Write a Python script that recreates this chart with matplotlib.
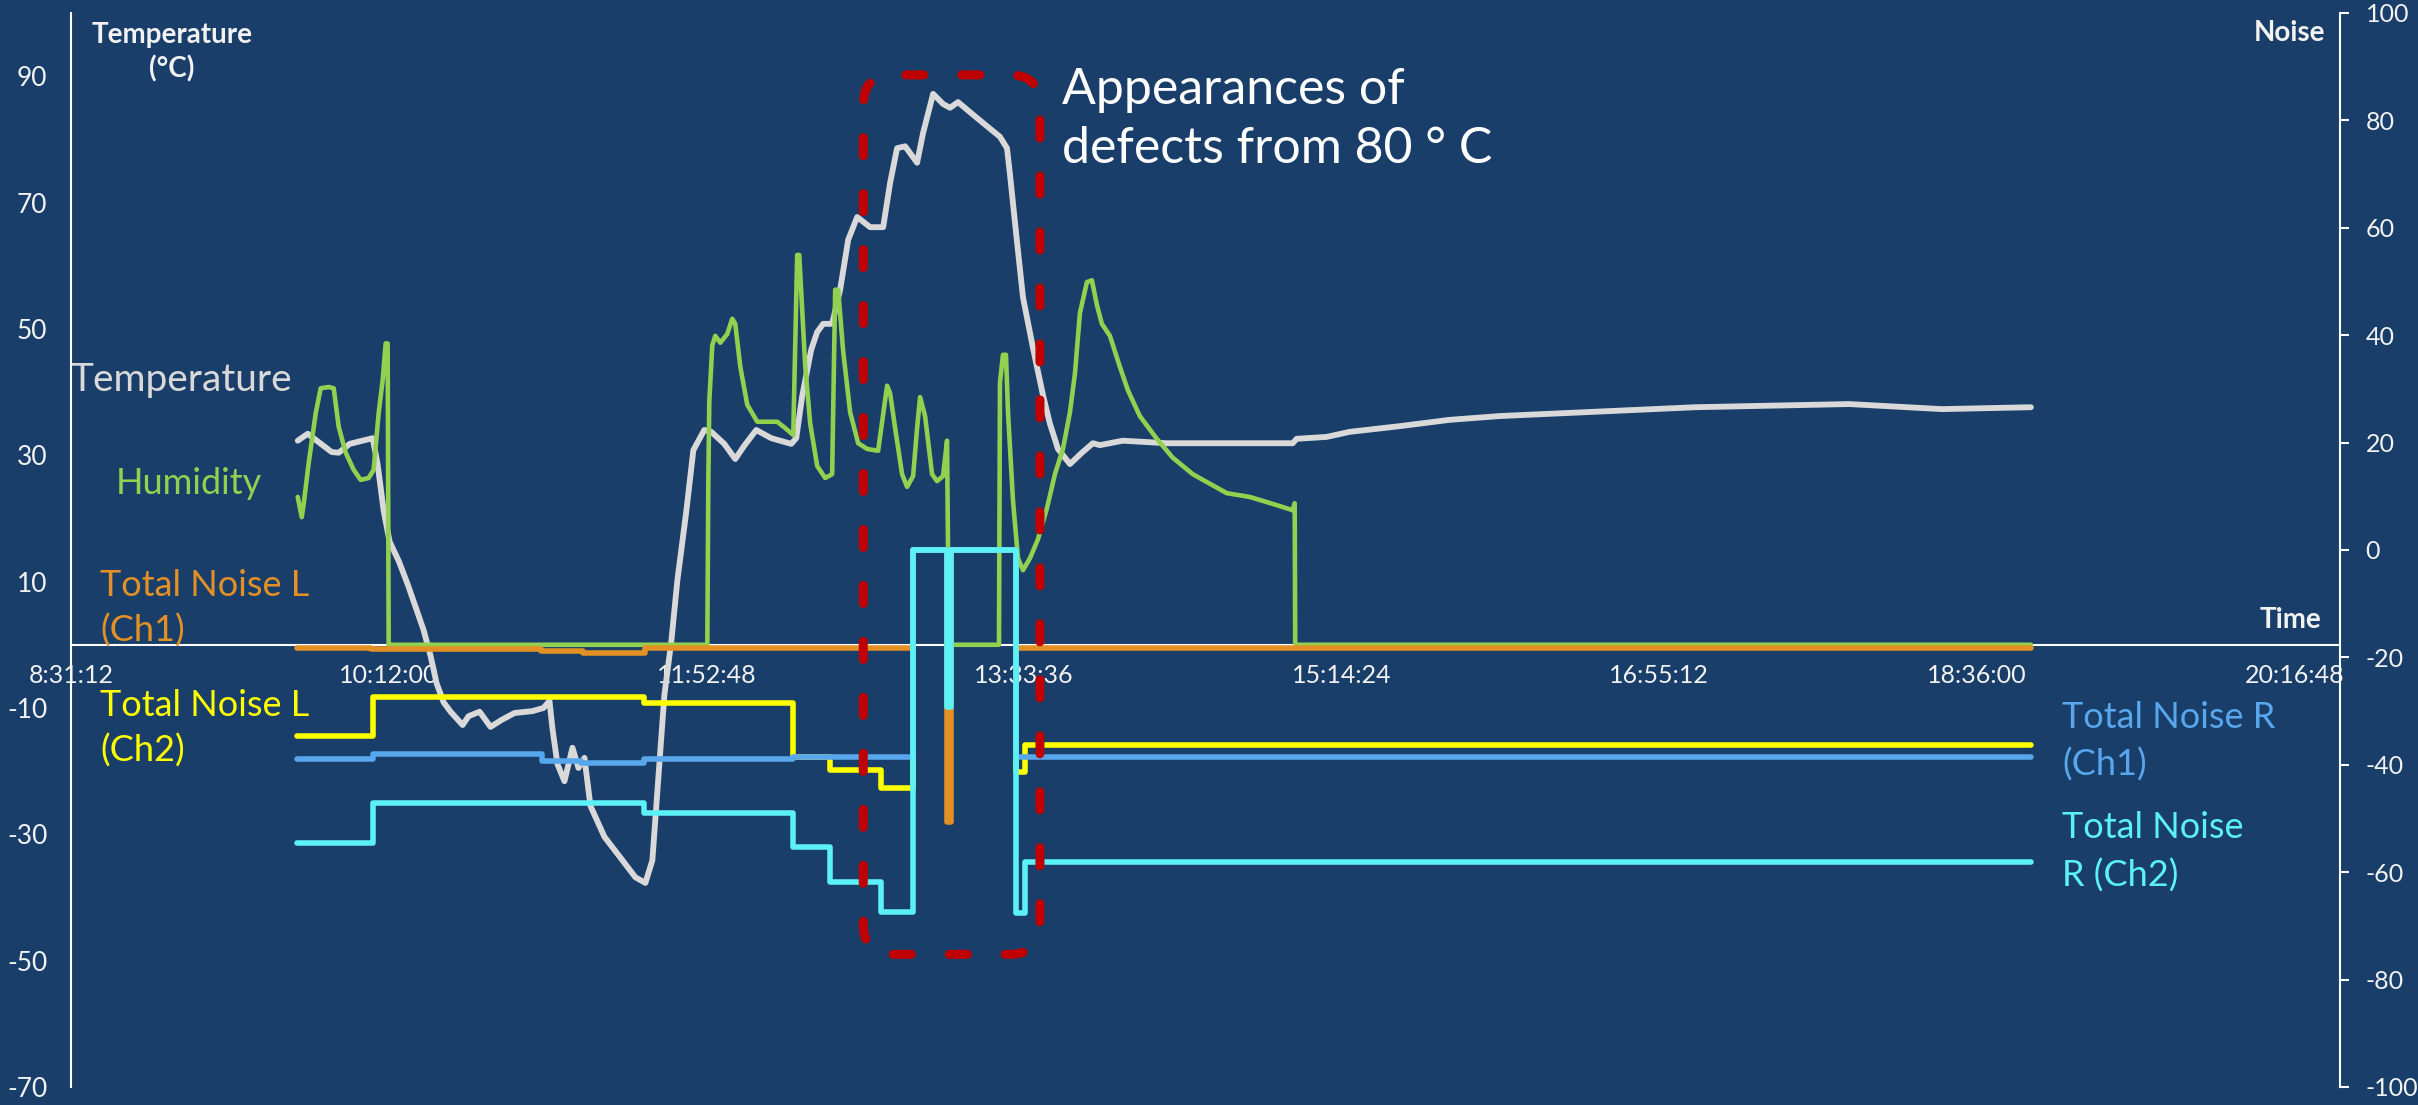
import matplotlib
matplotlib.use("Agg")
import matplotlib.pyplot as plt
from matplotlib.patches import FancyBboxPatch
from matplotlib.ticker import FixedLocator, FuncFormatter

plt.rcParams['font.family'] = ['Lato', 'DejaVu Sans']
plt.rcParams['axes.unicode_minus'] = False

# ---------------- data ----------------
temp_time = ["9:43:09", "9:46:19", "9:53:56", "9:56:09", "9:59:38", "10:06:56", "10:08:31", "10:10:25",
             "10:12:19", "10:15:10", "10:18:01", "10:20:53", "10:23:06", "10:25:19", "10:27:13", "10:29:26",
             "10:31:39", "10:35:28", "10:37:22", "10:40:51", "10:44:20", "10:47:49", "10:51:56", "10:57:39",
             "11:01:08", "11:03:02", "11:03:59", "11:05:34", "11:07:47", "11:10:20", "11:12:14", "11:14:08",
             "11:16:02", "11:20:28", "11:26:10", "11:30:17", "11:33:28", "11:35:41", "11:37:16", "11:39:29",
             "11:41:42", "11:43:37", "11:46:28", "11:48:41", "11:52:10", "11:54:23", "11:58:30", "12:01:59",
             "12:04:50", "12:08:39", "12:13:24", "12:19:44", "12:21:20", "12:23:14", "12:26:05", "12:27:59",
             "12:29:53", "12:32:44", "12:35:16", "12:37:49", "12:40:40", "12:44:47", "12:48:55", "12:51:07",
             "12:53:20", "12:55:53", "12:59:41", "13:01:35", "13:04:46", "13:07:56", "13:10:08", "13:12:41",
             "13:16:29", "13:20:36", "13:25:59", "13:28:13", "13:29:10", "13:31:23", "13:33:17", "13:36:27",
             "13:39:38", "13:41:50", "13:44:23", "13:48:11", "13:51:59", "13:55:28", "13:57:41", "14:04:59",
             "14:18:56", "14:39:51", "14:58:52", "15:00:08", "15:09:38", "15:16:56", "15:32:47", "15:48:38",
             "16:04:29", "17:06:38", "17:55:25", "18:24:54", "18:53:07"]
temp_vals = [32.3, 33.4, 30.5, 30.4, 31.8, 32.7, 28.5, 21.2,
             16.3, 13.3, 9.6, 5.5, 2.3, -1.8, -6.1, -9.1,
             -10.6, -12.7, -11.3, -10.6, -13.0, -11.9, -10.8, -10.5,
             -10.0, -8.9, -13.3, -18.9, -21.6, -16.3, -19.5, -17.9,
             -25.5, -30.4, -34.1, -36.8, -37.7, -34.1, -23.2, -8.0,
             0.6, 10.2, 21.2, 30.8, 34.0, 33.7, 31.8, 29.4,
             31.5, 34.0, 32.7, 31.8, 32.7, 39.4, 46.7, 49.5,
             50.8, 50.8, 56.2, 64.1, 67.7, 66.1, 66.1, 73.1,
             78.6, 78.9, 76.3, 81.0, 87.2, 85.6, 85.0, 85.9,
             84.3, 82.6, 80.4, 78.6, 74.4, 63.8, 55.0, 47.0,
             39.5, 35.0, 31.0, 28.6, 30.4, 31.9, 31.6, 32.3,
             31.9, 31.9, 31.9, 32.6, 32.9, 33.7, 34.6, 35.6,
             36.2, 37.6, 38.1, 37.3, 37.6]

hum_time = ["9:43:09", "9:44:25", "9:45:04", "9:46:38", "9:48:52", "9:50:26", "9:52:59", "9:54:34",
            "9:56:09", "9:58:22", "10:00:54", "10:03:07", "10:05:40", "10:07:14", "10:08:50", "10:10:06",
            "10:11:03", "10:11:41", "10:12:00", "11:53:07", "11:53:26", "11:53:45", "11:54:42", "11:55:39",
            "11:57:14", "11:59:27", "12:01:02", "12:01:59", "12:03:35", "12:05:47", "12:08:58", "12:12:08",
            "12:15:18", "12:17:50", "12:20:23", "12:21:38", "12:22:17", "12:24:11", "12:25:46", "12:27:59",
            "12:30:31", "12:32:44", "12:33:41", "12:34:38", "12:36:13", "12:38:26", "12:40:59", "12:43:50",
            "12:47:19", "12:50:10", "12:51:07", "12:52:43", "12:54:55", "12:56:31", "12:58:25", "12:59:41",
            "13:00:38", "13:02:13", "13:04:26", "13:06:01", "13:07:55", "13:09:11", "13:09:30", "13:09:40",
            "13:25:40", "13:25:59", "13:26:56", "13:27:53", "13:28:32", "13:30:07", "13:31:42", "13:33:17",
            "13:35:30", "13:38:02", "13:40:53", "13:43:25", "13:45:58", "13:48:11", "13:49:46", "13:51:21",
            "13:53:34", "13:55:09", "13:56:44", "13:58:19", "14:00:52", "14:04:02", "14:06:34", "14:10:22",
            "14:15:45", "14:20:50", "14:27:10", "14:37:56", "14:45:14", "14:52:32", "14:58:52", "14:59:30",
            "14:59:40", "18:53:07"]
hum_vals = [23.4, 20.2, 22.4, 28.8, 36.7, 40.6, 40.8, 40.6,
            34.5, 30.4, 27.7, 26.1, 26.4, 27.7, 36.7, 41.9,
            47.7, 47.7, 0, 0, 25.9, 38.6, 47.4, 48.9,
            47.8, 49.2, 51.6, 50.8, 44.0, 38.0, 35.3, 35.3,
            35.3, 34.3, 33.2, 61.7, 61.7, 44.1, 35.0, 28.3,
            26.4, 27.0, 56.2, 56.2, 46.5, 36.8, 31.9, 31.0,
            30.7, 41.0, 39.8, 34.3, 27.0, 25.0, 26.7, 34.3,
            39.2, 36.2, 27.0, 25.9, 26.7, 32.3, 15.0, 0,
            0, 41.5, 45.9, 45.9, 36.8, 22.8, 13.7, 11.8,
            13.7, 16.7, 21.6, 27.0, 31.0, 36.8, 42.9, 52.5,
            57.4, 57.7, 53.8, 50.8, 48.9, 44.0, 40.3, 36.2,
            32.6, 29.6, 27.0, 24.0, 23.4, 22.3, 21.3, 22.4,
            0, 0]

# Noise series (secondary axis), values held until next change time
noise_l1_time = ["9:43:00", "10:06:17", "11:00:11", "11:13:49", "11:33:28", "12:58:25", "13:09:11",
                 "13:10:27", "13:31:04", "18:53:07"]
noise_l1_vals = [-18.2, -18.5, -18.9, -19.2, -18.2, 0, -50.7, 0, -18.2, -18.2]

noise_l2_time = ["9:43:00", "10:06:56", "11:33:09", "12:20:23", "12:32:07", "12:48:17", "12:58:25",
                 "13:31:04", "13:33:55", "18:53:07"]
noise_l2_vals = [-34.6, -27.4, -28.5, -38.6, -41.0, -44.4, 0, -41.3, -36.3, -36.3]

noise_r1_time = ["9:43:00", "10:06:56", "11:00:30", "11:13:10", "11:33:09", "12:20:23", "12:58:25",
                 "13:31:04", "18:53:07"]
noise_r1_vals = [-38.9, -38.0, -39.3, -39.6, -38.9, -38.5, 0, -38.5, -38.5]

noise_r2_time = ["9:43:00", "10:06:56", "11:33:09", "12:20:23", "12:32:07", "12:48:17", "12:58:25",
                 "13:09:11", "13:10:27", "13:31:04", "13:33:55", "18:53:07"]
noise_r2_vals = [-54.6, -47.2, -49.0, -55.4, -61.9, -67.5, 0, -29.2, 0, -67.6, -58.1, -58.1]

x_ticks = ["8:31:12", "10:12:00", "11:52:48", "13:33:36", "15:14:24", "16:55:12", "18:36:00", "20:16:48"]
x_max = "20:31:12"
temp_ticks = [90, 70, 50, 30, 10, -10, -30, -50, -70]
noise_ticks = [100, 80, 60, 40, 20, 0, -20, -40, -60, -80, -100]

# defect window annotation (time range, temperature range)
box_time = ["12:42:36", "13:38:40"]
box_temp = [-49.0, 90.2]

# ---------------- styling ----------------
BG = '#1a3e6a'
C_TEMP = '#d9d9d9'
C_HUM = '#92d050'
C_L1 = '#e39024'
C_L2 = '#ffff00'
C_R1 = '#58a6ec'
C_R2 = '#5cf0f7'
C_BOX = '#c00000'
TXT = '#f2f2f2'


def t2d(s):
    p = [int(v) for v in s.split(":")]
    while len(p) < 3:
        p.append(0)
    return (p[0] * 3600 + p[1] * 60 + p[2]) / 86400.0


def fmt_time(v, pos=None):
    s = int(round(v * 86400))
    return f"{s // 3600}:{(s % 3600) // 60:02d}:{s % 60:02d}"


W, H = 2418, 1105
fig = plt.figure(figsize=(W / 100, H / 100), dpi=100, facecolor=BG)
L, R, T, B = 71, 2340, 13, 1087
ax = fig.add_axes([L / W, 1 - B / H, (R - L) / W, (B - T) / H])
ax.set_facecolor(BG)
ax2 = ax.twinx()
ax2.patch.set_visible(False)

xmin = t2d(x_ticks[0])
xmax = t2d(x_max)

# primary series
ax.plot([t2d(t) for t in temp_time], temp_vals, color=C_TEMP, lw=4.2,
        solid_capstyle='round', solid_joinstyle='round', zorder=3)
ax.plot([t2d(t) for t in hum_time], hum_vals, color=C_HUM, lw=3.3,
        solid_capstyle='round', solid_joinstyle='round', zorder=4)

# secondary series
for tt, vv, c in [(noise_l1_time, noise_l1_vals, C_L1),
                  (noise_l2_time, noise_l2_vals, C_L2),
                  (noise_r1_time, noise_r1_vals, C_R1),
                  (noise_r2_time, noise_r2_vals, C_R2)]:
    ax2.plot([t2d(t) for t in tt], vv, color=c, lw=4.0, drawstyle='steps-post',
             solid_capstyle='round', solid_joinstyle='round')

ax.set_xlim(xmin, xmax)
ax.set_ylim(-70, 100)
ax2.set_ylim(-100, 100)

# axes / spines
for s in ['top', 'right']:
    ax.spines[s].set_visible(False)
ax.spines['bottom'].set_position(('data', 0))
ax.spines['bottom'].set_color('white')
ax.spines['bottom'].set_linewidth(1.5)
ax.spines['left'].set_color('white')
ax.spines['left'].set_linewidth(1.5)
for s in ['top', 'left', 'bottom']:
    ax2.spines[s].set_visible(False)
ax2.spines['right'].set_color('white')
ax2.spines['right'].set_linewidth(1.5)

ax.xaxis.set_major_locator(FixedLocator([t2d(t) for t in x_ticks]))
ax.xaxis.set_major_formatter(FuncFormatter(fmt_time))
ax.tick_params(axis='x', length=0, pad=14, labelsize=18, labelcolor=TXT)
ax.set_yticks(temp_ticks)
ax.tick_params(axis='y', length=0, pad=17, labelsize=19, labelcolor=TXT)
ax2.set_yticks(noise_ticks)
ax2.tick_params(axis='y', length=6.5, width=1.5, color='white', direction='out', pad=12,
                labelsize=18, labelcolor=TXT)


def fx(px):
    return px / W


def fy(py):
    return 1 - py / H


# axis titles
fig.text(fx(172), fy(43), "Temperature", ha='center', va='baseline', fontsize=20,
         fontweight='bold', color=TXT)
fig.text(fx(172), fy(77), "(°C)", ha='center', va='baseline', fontsize=20,
         fontweight='bold', color=TXT)
fig.text(fx(2325), fy(41), "Noise", ha='right', va='baseline', fontsize=20,
         fontweight='bold', color=TXT)
fig.text(fx(2321), fy(628), "Time", ha='right', va='baseline', fontsize=20,
         fontweight='bold', color=TXT)

# series labels
LS = 26
fig.text(fx(70), fy(380), "Temperature", ha='left', va='center', fontsize=28, color=C_TEMP)
fig.text(fx(116), fy(483), "Humidity", ha='left', va='center', fontsize=LS, color=C_HUM)
fig.text(fx(100), fy(586), "Total Noise L", ha='left', va='center', fontsize=LS, color=C_L1)
fig.text(fx(100), fy(631), "(Ch1)", ha='left', va='center', fontsize=LS, color=C_L1)
fig.text(fx(100), fy(706), "Total Noise L", ha='left', va='center', fontsize=LS, color=C_L2)
fig.text(fx(100), fy(751), "(Ch2)", ha='left', va='center', fontsize=LS, color=C_L2)
fig.text(fx(2062), fy(717), "Total Noise R", ha='left', va='center', fontsize=LS, color=C_R1)
fig.text(fx(2062), fy(765), "(Ch1)", ha='left', va='center', fontsize=LS, color=C_R1)
fig.text(fx(2062), fy(828), "Total Noise", ha='left', va='center', fontsize=LS, color=C_R2)
fig.text(fx(2062), fy(876), "R (Ch2)", ha='left', va='center', fontsize=LS, color=C_R2)

# annotation
fig.text(fx(1062), fy(104), "Appearances of", ha='left', va='baseline', fontsize=36, color='white')
fig.text(fx(1062), fy(163), "defects from 80 ° C", ha='left', va='baseline', fontsize=36, color='white')

# dashed rounded box around defect window
ax_w_px = R - L
ax_h_px = B - T
bx0 = (t2d(box_time[0]) - xmin) / (xmax - xmin)
bx1 = (t2d(box_time[1]) - xmin) / (xmax - xmin)
by0 = (box_temp[0] + 70) / 170.0
by1 = (box_temp[1] + 70) / 170.0
rad = 30.0 / ax_w_px
box = FancyBboxPatch((bx0, by0), bx1 - bx0, by1 - by0,
                     boxstyle=f"round,pad=0,rounding_size={rad}",
                     mutation_aspect=ax_w_px / ax_h_px,
                     fill=False, edgecolor=C_BOX, lw=6.5,
                     linestyle=(0, (2.0, 4.2)), capstyle='round', clip_on=False, zorder=10)
ax2.add_patch(box)
box.set_transform(ax2.transAxes)

fig.savefig("out.png", dpi=100, facecolor=BG)
